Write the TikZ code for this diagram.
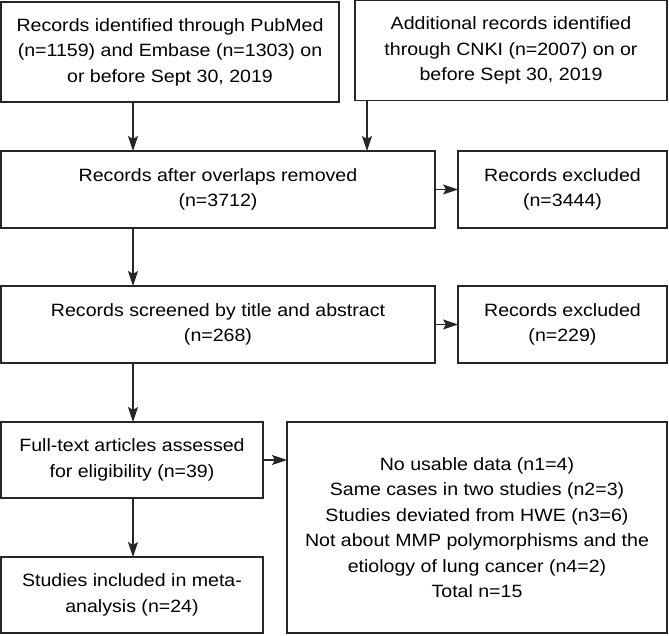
\documentclass[tikz,border=0pt]{standalone}
\usepackage{fontspec}
\setmainfont[FakeStretch=1.1]{Liberation Sans}
\usetikzlibrary{positioning,arrows.meta}
\tikzset{
	block base/.style={draw=black!85, line width=1.2pt, rectangle, align=center, inner sep=0pt, outer sep=0pt, font=\fontsize{17.8}{25.5}\selectfont},
	wide block/.style={block base, minimum width=434pt, minimum height=77pt},
	side block/.style={block base, minimum width=209pt, minimum height=77pt},
	left block/.style={block base, minimum width=262pt, minimum height=76pt},
	flow/.style={draw=black!85, line width=1.2pt, -{Stealth[length=15pt,width=10pt,inset=3pt]}},
}

\begin{document}
\begin{tikzpicture}[x=1pt,y=1pt]
	\useasboundingbox (0,0) rectangle (669,-636);
	% Sources
	\node [block base,minimum width=338pt,minimum height=100pt,anchor=north west] (pubmed) at (1,-2) {Records identified through PubMed\\(n=1159) and Embase (n=1303) on\\or before Sept 30, 2019};
	\node [block base,minimum width=312pt,minimum height=100pt,right=16pt of pubmed.north east,anchor=north west,yshift=1.2pt] (cnki) {Additional records identified\\through CNKI (n=2007) on or\\before Sept 30, 2019};

	% Main column
	\node [wide block,below=49pt of pubmed.south west,anchor=north west] (merged) {Records after overlaps removed\\(n=3712)};
	\node [side block,right=23pt of merged] (excl1) {Records excluded\\(n=3444)};
	\node [wide block,below=58pt of merged.south west,anchor=north west] (screened) {Records screened by title and abstract\\(n=268)};
	\node [side block,right=23pt of screened] (excl2) {Records excluded\\(n=229)};
	\node [left block,below=59pt of screened.south west,anchor=north west] (fulltext) {Full-text articles assessed\\for eligibility (n=39)};
	\node [left block,below=59pt of fulltext.south west,anchor=north west] (included) {Studies included in meta-\\analysis (n=24)};
	\node [block base,minimum width=380pt,minimum height=211pt,right=24pt of fulltext.north east,anchor=north west] (reasons) {No usable data (n1=4)\\Same cases in two studies (n2=3)\\Studies deviated from HWE (n3=6)\\Not about MMP polymorphisms and the\\etiology of lung cancer (n4=2)\\Total n=15};

	% Arrows
	\coordinate (spine) at (133,0);
	\coordinate (cnkidrop) at (367,0);
	\draw [flow] (spine |- pubmed.south) -- (spine |- merged.north);
	\draw [flow] (cnkidrop |- cnki.south) -- (cnkidrop |- merged.north);
	\draw [flow] (merged.east) -- (excl1.west);
	\draw [flow] (spine |- merged.south) -- (spine |- screened.north);
	\draw [flow] (screened.east) -- (excl2.west);
	\draw [flow] (spine |- screened.south) -- (spine |- fulltext.north);
	\draw [flow] (fulltext.east) -- (fulltext.east -| reasons.west);
	\draw [flow] (spine |- fulltext.south) -- (spine |- included.north);
\end{tikzpicture}
\end{document}
